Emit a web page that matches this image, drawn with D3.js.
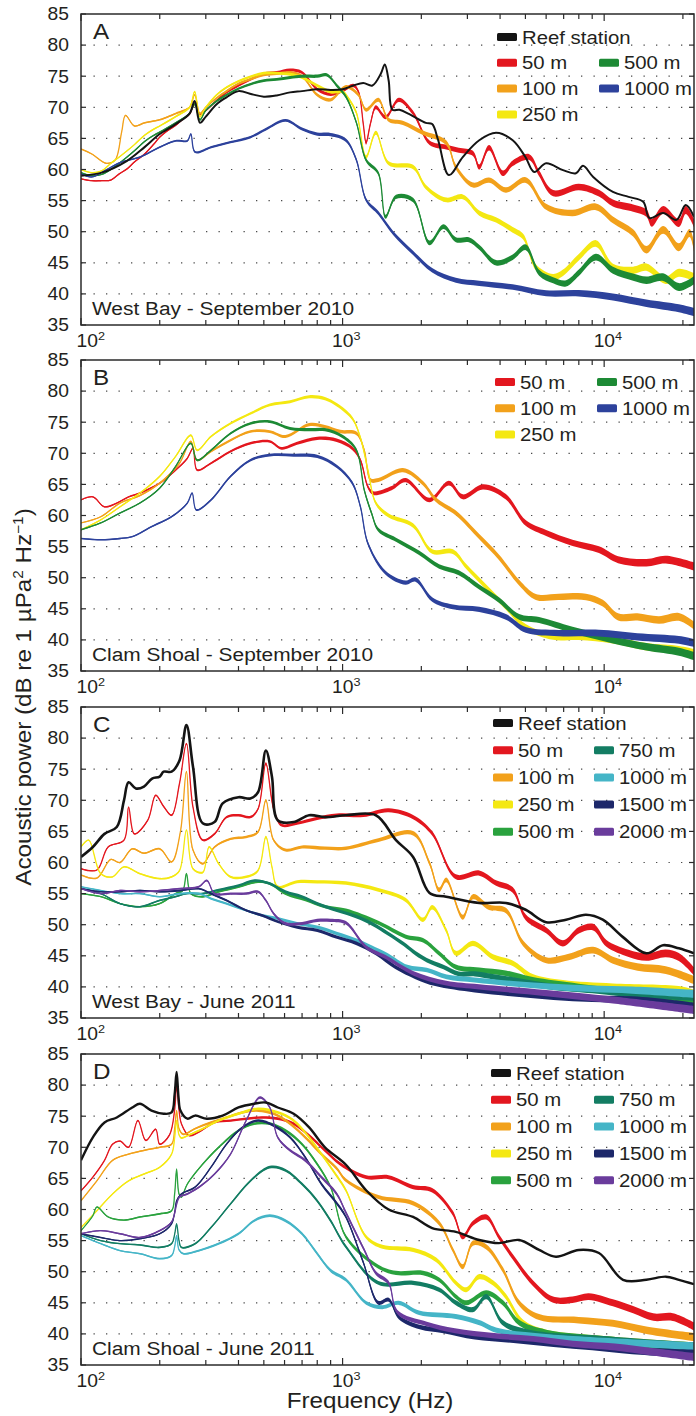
<!DOCTYPE html>
<html>
<head>
<meta charset="utf-8">
<script src="https://cdn.jsdelivr.net/npm/d3@7"></script>
<style>
  body { margin: 0; background: #fff; }
  svg { display: block; }
  text { font-family: "Liberation Sans", Arial, Helvetica, sans-serif; fill: #231f20; }
</style>
</head>
<body>
<svg id="chart" width="696" height="1416"></svg>
<script>
// ---- data: [frequency Hz, dB re 1 uPa^2/Hz] ----
// A: West Bay - September 2010
var wbSepReef = [[100,59.0],[120,59.5],[150,61.4],[175,63.6],[200,65.7],[230,67.3],[260,69.0],[272,71.0],[285,67.5],[300,68.5],[330,70.5],[360,71.6],[400,72.6],[450,72.1],[500,71.7],[560,71.9],[630,72.4],[700,72.6],[800,72.9],[900,72.8],[1000,72.9],[1100,73.5],[1200,73.9],[1300,73.5],[1400,75.4],[1450,76.9],[1500,74.3],[1550,69.6],[1650,69.6],[1800,68.9],[2080,67.5],[2200,67.3],[2320,64.7],[2550,59.1],[2880,62.0],[3330,64.7],[3860,65.9],[4470,64.7],[5000,62.0],[5400,59.6],[6000,61.0],[6960,59.9],[7800,59.4],[8300,60.6],[9080,58.8],[10800,56.4],[12400,55.6],[14100,54.8],[14900,52.2],[16800,53.0],[18900,51.9],[20500,54.3],[22050,52.4]];
var wbSep50 = [[100,58.5],[110,58.2],[120,58.2],[130,58.3],[140,59.3],[150,60.1],[160,61.2],[175,62.5],[190,64.1],[200,65.2],[215,66.3],[230,67.1],[245,68.1],[260,68.9],[272,70.5],[285,68.9],[300,69.5],[330,71.1],[360,72.4],[400,73.5],[450,74.6],[500,75.4],[560,75.6],[630,76.0],[700,75.6],[800,72.9],[900,72.1],[1000,72.7],[1100,73.5],[1150,72.5],[1200,67.3],[1230,64.3],[1280,67.5],[1340,70.0],[1460,68.4],[1640,71.2],[1860,69.1],[2150,64.3],[2490,63.6],[2780,63.1],[3150,62.6],[3330,60.4],[3630,63.5],[4100,59.4],[4470,61.0],[5170,62.0],[5640,59.4],[6380,56.2],[8000,57.2],[9550,56.2],[10800,54.6],[12900,53.8],[14500,53.0],[15200,51.4],[16800,53.5],[19300,51.4],[20500,53.5],[22050,51.4]];
var wbSep100 = [[100,63.3],[110,62.5],[125,61.0],[135,61.5],[143,66.0],[148,68.7],[160,67.0],[175,67.5],[190,67.8],[200,68.0],[230,69.0],[260,70.0],[272,72.0],[285,69.0],[300,70.0],[330,71.5],[360,72.6],[400,73.8],[450,74.6],[500,75.2],[560,75.4],[630,75.6],[700,75.0],[800,72.0],[900,71.2],[1030,73.3],[1150,72.0],[1230,69.6],[1370,71.2],[1500,68.0],[1700,67.5],[2030,65.9],[2490,64.3],[2710,60.4],[3150,57.5],[3630,58.3],[4210,56.7],[5010,58.3],[6000,54.0],[7570,53.0],[9300,54.0],[10800,51.9],[12900,49.8],[14500,47.1],[16800,50.3],[19300,47.5],[21200,49.8],[22050,47.5]];
var wbSep250 = [[100,60.0],[110,59.5],[120,59.8],[130,61.0],[140,62.0],[150,63.0],[160,64.0],[175,65.5],[190,66.5],[200,67.0],[230,68.5],[260,70.0],[272,72.5],[285,68.5],[300,70.0],[330,72.0],[360,73.2],[400,74.2],[450,75.0],[500,75.5],[560,75.5],[630,75.3],[700,74.8],[800,73.5],[900,72.5],[1000,72.5],[1050,71.5],[1130,69.1],[1230,62.0],[1340,65.9],[1500,61.0],[1860,60.4],[2080,57.2],[2490,55.1],[2880,55.6],[3330,53.0],[3860,51.9],[4470,50.3],[4900,49.2],[5480,44.3],[6380,42.7],[6960,43.4],[8000,45.9],[9300,48.1],[10800,44.3],[12900,43.8],[14500,44.3],[17200,42.2],[19300,43.4],[22050,42.7]];
var wbSep500 = [[100,59.5],[110,59.0],[120,59.2],[130,60.0],[140,61.0],[150,62.0],[160,63.0],[175,64.5],[190,65.5],[200,66.0],[230,67.5],[260,69.0],[272,70.5],[285,68.0],[300,69.5],[330,71.0],[360,72.0],[400,73.0],[450,73.8],[500,74.3],[560,74.5],[630,74.8],[700,75.0],[800,75.0],[870,75.2],[950,73.5],[1030,71.7],[1130,67.5],[1230,61.5],[1370,59.4],[1460,52.4],[1600,55.6],[1860,55.1],[2150,48.2],[2430,50.8],[2710,48.7],[3040,48.7],[3330,47.5],[3860,45.0],[4470,45.9],[5010,47.5],[5640,43.4],[6380,42.2],[7150,41.7],[8000,43.4],[9300,45.9],[10800,43.8],[12900,42.7],[14500,42.2],[16800,42.7],[19300,41.1],[22050,42.2]];
var wbSep1000 = [[100,59.3],[110,58.8],[123,59.8],[141,61.1],[168,62.0],[200,63.6],[230,64.6],[255,64.6],[263,65.7],[273,62.8],[315,63.6],[373,64.4],[444,65.2],[510,66.5],[605,67.9],[700,66.5],[800,65.7],[900,65.6],[1030,64.7],[1130,61.5],[1230,55.1],[1370,53.0],[1560,49.8],[1860,46.6],[2200,43.8],[2710,42.2],[3330,41.7],[4470,41.1],[6000,40.1],[8000,40.1],[10800,39.5],[14500,38.5],[19300,37.7],[22050,37.1]];

// B: Clam Shoal - September 2010
var csSep50 = [[100,62.5],[111,63.0],[123,61.4],[137,62.0],[152,63.0],[168,63.6],[200,65.2],[230,67.3],[255,69.2],[268,70.8],[278,67.3],[314,68.4],[373,70.3],[444,71.6],[527,71.9],[584,70.8],[670,71.6],[800,72.4],[950,72.1],[1090,70.8],[1170,68.9],[1250,64.6],[1310,63.6],[1540,64.4],[1740,65.7],[2150,62.5],[2550,65.2],[2880,63.0],[3440,64.6],[4210,63.0],[5010,58.8],[6000,57.2],[7570,55.6],[9550,54.5],[11300,52.9],[14500,52.4],[17200,52.9],[22050,51.8]];
var csSep100 = [[100,58.8],[119,59.8],[141,62.0],[168,63.2],[200,65.2],[238,68.4],[263,71.9],[278,68.9],[314,70.3],[373,72.1],[444,73.5],[527,73.5],[605,72.7],[745,74.6],[856,74.3],[980,73.5],[1130,73.2],[1210,70.5],[1280,65.7],[1370,65.7],[1700,67.3],[2030,65.2],[2280,62.5],[2710,60.4],[3330,56.6],[3960,53.3],[4730,49.2],[5480,46.9],[6700,46.9],[8520,46.9],[9880,45.9],[11300,43.7],[13400,43.7],[16200,43.2],[19300,43.7],[22050,42.3]];
var csSep250 = [[100,57.7],[119,59.3],[141,61.4],[168,63.6],[200,66.3],[230,69.5],[263,72.9],[278,70.5],[314,72.7],[373,74.8],[444,76.4],[527,77.8],[630,78.3],[745,79.1],[856,78.8],[950,77.8],[1090,75.6],[1170,72.5],[1250,67.3],[1340,62.0],[1500,60.0],[1860,58.4],[2200,54.2],[2640,54.2],[2970,51.8],[3540,48.5],[4210,45.3],[5010,42.1],[6380,40.5],[8000,40.5],[10800,40.0],[14500,38.9],[19300,38.4],[22050,37.9]];
var csSep500 = [[100,57.7],[119,58.8],[141,60.4],[168,62.0],[200,64.4],[230,67.9],[263,71.6],[278,68.9],[314,70.5],[373,73.2],[444,74.8],[527,75.1],[630,74.0],[745,73.8],[856,73.8],[1000,72.7],[1130,70.5],[1210,64.1],[1290,60.4],[1370,57.7],[1600,56.1],[1960,54.0],[2340,51.8],[2780,50.8],[3330,48.5],[3960,46.4],[4730,43.7],[5640,43.2],[7570,41.6],[10800,40.0],[14500,38.9],[19300,38.1],[22050,37.4]];
var csSep1000 = [[100,56.3],[119,56.1],[141,56.3],[157,56.6],[186,58.2],[222,59.8],[255,62.0],[266,63.6],[276,60.9],[314,62.5],[373,66.3],[444,68.9],[527,69.7],[650,69.7],[800,69.5],[950,67.9],[1090,65.2],[1170,61.4],[1250,55.5],[1460,50.8],[1740,49.2],[1900,49.7],[2200,46.5],[2640,45.3],[3330,44.9],[4210,43.7],[5010,41.6],[6700,41.1],[9550,41.1],[13400,40.5],[19300,40.0],[22050,39.5]];

// C: West Bay - June 2011
var wbJunReef = [[100,60.9],[111,62.5],[123,64.6],[137,65.7],[146,70.0],[152,72.9],[162,71.9],[174,72.2],[187,73.5],[200,73.8],[207,74.6],[222,74.6],[238,76.4],[253,82.1],[268,75.4],[292,66.3],[324,66.5],[348,69.5],[400,70.5],[444,70.3],[475,71.3],[509,78.0],[537,73.8],[565,66.8],[650,66.5],[745,67.6],[856,67.3],[1030,67.6],[1340,67.6],[1600,63.6],[1860,60.9],[2150,55.1],[2490,54.5],[3330,53.5],[4210,53.5],[5010,52.4],[6000,50.4],[7150,50.8],[8520,51.6],[9880,50.8],[11800,48.0],[14500,45.4],[16800,46.7],[19300,46.2],[22050,45.4]];
var wbJun50 = [[100,59.0],[115,58.8],[127,62.5],[146,63.6],[152,68.9],[160,64.6],[180,66.8],[193,70.8],[207,69.0],[222,67.6],[238,72.7],[253,79.1],[268,68.9],[292,63.6],[324,64.6],[360,67.3],[400,67.6],[444,67.3],[475,68.6],[509,75.9],[545,68.6],[584,66.0],[670,66.3],[800,67.1],[950,67.6],[1200,67.6],[1500,68.4],[1860,67.3],[2200,64.7],[2710,57.7],[3330,58.3],[3860,56.7],[4470,55.6],[5010,51.2],[6000,49.1],[6960,47.0],[8000,49.1],[9080,49.6],[10200,47.0],[12400,45.4],[14500,44.8],[17200,45.4],[19300,44.8],[22050,42.5]];
var wbJun100 = [[100,58.0],[115,57.5],[130,60.5],[141,60.0],[157,62.2],[174,61.5],[200,62.2],[222,60.1],[240,65.0],[253,74.6],[268,62.0],[292,59.8],[324,62.5],[373,63.8],[428,64.1],[475,64.9],[509,70.0],[545,63.6],[605,62.0],[700,62.5],[856,62.3],[1030,62.3],[1370,63.6],[1860,64.7],[2150,59.9],[2340,55.6],[2490,57.2],[2880,51.2],[3150,54.5],[3630,52.8],[4210,52.3],[4900,47.0],[6000,44.3],[7320,44.8],[9080,45.9],[10800,44.3],[13400,43.2],[17200,42.7],[22050,41.1]];
var wbJun250 = [[100,62.5],[107,63.6],[119,58.2],[132,57.7],[146,59.3],[168,58.2],[200,57.4],[222,57.7],[238,58.7],[253,65.2],[268,59.0],[292,58.4],[309,62.5],[336,59.8],[373,57.7],[428,57.7],[475,58.7],[509,64.1],[537,59.3],[565,56.1],[670,56.9],[800,56.9],[1030,56.7],[1370,55.6],[1740,54.0],[2030,50.8],[2200,52.8],[2490,49.1],[2710,45.4],[3150,47.0],[3760,44.8],[4470,43.8],[5330,41.6],[6960,40.6],[10800,40.0],[19300,39.5],[22050,38.9]];
var wbJun500 = [[100,55.0],[119,54.5],[141,53.4],[168,52.9],[200,53.4],[230,55.0],[245,55.5],[253,58.2],[263,55.0],[292,54.5],[336,55.3],[400,56.1],[475,56.9],[527,56.6],[605,55.0],[720,54.0],[856,52.9],[1030,52.3],[1370,50.3],[1740,48.1],[2030,47.5],[2340,45.4],[2710,43.2],[3330,42.7],[4210,42.2],[5330,41.1],[8000,40.0],[12400,39.0],[22050,37.9]];
var wbJun750 = [[100,55.8],[119,55.0],[141,53.4],[168,52.9],[200,53.9],[230,54.5],[253,55.0],[292,55.0],[336,55.6],[400,56.3],[460,57.1],[527,56.6],[605,55.3],[700,54.5],[800,53.4],[950,52.3],[1130,51.3],[1290,50.2],[1490,48.6],[1710,46.9],[1900,45.4],[2100,44.3],[2430,43.2],[2780,42.1],[3200,42.1],[3800,41.6],[4500,41.1],[5350,40.5],[6400,40.0],[9000,39.5],[12800,38.9],[22050,38.4]];
var wbJun1000 = [[100,56.1],[119,55.5],[141,55.0],[168,55.0],[200,54.5],[238,55.0],[282,55.0],[314,54.2],[360,53.4],[428,52.3],[492,51.5],[565,51.0],[670,50.2],[800,49.6],[950,48.6],[1130,47.5],[1290,46.4],[1490,45.1],[1770,43.2],[2100,42.7],[2500,41.6],[3200,41.1],[4500,40.5],[6400,40.0],[9000,39.7],[12800,39.5],[22050,38.9]];
var wbJun1500 = [[100,55.8],[119,55.3],[141,55.3],[168,55.5],[200,55.3],[238,55.5],[282,55.8],[314,55.0],[360,53.9],[428,52.3],[492,51.5],[565,50.5],[670,49.6],[800,49.1],[950,48.0],[1130,47.0],[1340,45.4],[1590,43.2],[1900,41.6],[2260,40.5],[3200,39.5],[4500,38.9],[6400,38.4],[9000,38.1],[12800,37.9],[18000,37.3],[22050,36.8]];
var wbJun2000 = [[100,55.8],[119,55.0],[141,55.5],[168,55.3],[200,55.5],[238,55.8],[282,56.1],[303,57.1],[324,55.0],[373,55.0],[428,55.0],[475,55.3],[509,53.9],[545,51.8],[605,50.2],[700,50.2],[800,50.7],[900,50.7],[1030,50.3],[1230,46.4],[1460,44.8],[1860,42.2],[2490,40.6],[3330,40.0],[6000,39.0],[10800,37.9],[22050,36.3]];

// D: Clam Shoal - June 2011
var csJunReef = [[100,67.9],[111,71.6],[123,74.0],[137,74.8],[157,76.4],[168,77.0],[186,75.9],[207,75.4],[222,75.6],[228,78.5],[232,82.1],[236,78.0],[240,75.9],[255,74.6],[273,75.1],[303,74.6],[348,75.1],[400,76.4],[459,77.0],[509,77.2],[565,76.4],[650,75.4],[745,73.2],[856,70.0],[1030,67.2],[1230,63.1],[1500,60.0],[1860,58.8],[2200,57.0],[2710,56.4],[3330,55.1],[3960,54.6],[4730,55.1],[5640,53.5],[6540,52.4],[8000,53.5],[9550,53.0],[11800,48.7],[14500,48.7],[17200,49.2],[19300,48.7],[22050,48.0]];
var csJun50 = [[100,63.0],[111,65.2],[123,67.9],[132,70.5],[141,71.0],[152,70.0],[165,74.3],[177,71.1],[193,72.9],[200,70.5],[218,72.0],[228,76.0],[232,79.9],[237,76.0],[242,73.8],[259,71.9],[283,72.5],[324,74.0],[373,74.3],[428,74.6],[492,74.8],[565,74.6],[650,73.8],[745,71.9],[856,69.5],[980,67.3],[1230,65.2],[1500,65.2],[1860,63.6],[2200,63.1],[2640,59.4],[2880,55.6],[3150,57.8],[3540,58.8],[3960,55.6],[4470,52.4],[5330,48.2],[6380,45.5],[7570,45.5],[8730,46.0],[10800,45.0],[12900,43.9],[15400,42.7],[18300,42.7],[22050,41.2]];
var csJun100 = [[100,61.4],[115,64.6],[132,67.9],[152,68.9],[174,69.5],[200,70.0],[222,70.5],[228,73.0],[232,75.9],[237,73.0],[246,72.1],[273,73.0],[314,74.0],[360,74.8],[414,75.6],[475,75.9],[545,75.4],[630,73.8],[720,71.6],[830,68.9],[950,66.6],[1030,64.7],[1370,62.0],[1860,61.0],[2340,57.8],[2640,53.5],[2880,50.8],[3150,54.6],[3540,54.0],[4100,50.3],[4730,45.0],[5640,42.7],[8000,42.2],[10800,41.7],[14500,40.6],[22050,39.5]];
var csJun250 = [[100,57.1],[115,59.8],[132,62.5],[152,64.6],[174,65.7],[200,66.8],[222,68.9],[228,71.5],[232,74.3],[237,72.0],[242,71.5],[259,72.0],[292,73.0],[336,74.3],[400,75.4],[475,76.2],[565,75.6],[650,74.3],[745,71.6],[830,68.9],[950,65.4],[1030,63.1],[1230,55.6],[1420,54.0],[1860,53.5],[2280,51.9],[2710,48.2],[2970,47.1],[3330,49.2],[3760,48.2],[4210,46.0],[4900,41.8],[6000,40.2],[10800,39.0],[22050,38.0]];
var csJun500 = [[100,56.6],[111,59.0],[115,60.4],[127,58.8],[146,58.3],[168,58.8],[200,59.3],[222,59.8],[228,62.5],[232,66.5],[237,62.5],[242,62.0],[255,64.1],[292,67.3],[336,70.0],[400,72.7],[459,73.8],[527,73.8],[605,72.7],[700,70.5],[800,67.3],[900,63.6],[1030,55.6],[1370,50.8],[1600,49.8],[2030,49.8],[2340,48.7],[2710,46.0],[2970,45.0],[3540,46.6],[4100,45.0],[4730,41.8],[6000,40.2],[10800,39.0],[22050,37.4]];
var csJun750 = [[100,56.1],[119,55.0],[141,54.5],[168,54.3],[200,53.9],[222,54.5],[228,56.0],[232,57.7],[237,55.0],[242,53.9],[273,54.5],[314,57.1],[373,60.9],[444,64.6],[527,66.8],[605,66.3],[700,64.1],[800,61.4],[900,58.2],[1030,54.0],[1370,48.2],[1860,48.2],[2340,47.1],[2710,45.0],[3150,43.9],[3540,46.0],[4100,41.8],[5170,40.2],[10800,39.0],[22050,38.0]];
var csJun1000 = [[100,55.8],[119,54.5],[141,53.4],[168,52.9],[200,52.1],[222,52.6],[228,54.0],[232,55.8],[237,53.5],[246,52.9],[283,53.4],[336,54.5],[400,56.1],[459,58.2],[527,59.0],[605,58.2],[700,56.1],[800,52.9],[900,50.2],[1030,48.7],[1230,45.0],[1420,44.3],[1640,45.0],[1960,43.4],[2710,42.8],[3330,41.8],[3860,40.6],[6000,39.5],[22050,38.0]];
var csJun1500 = [[100,56.1],[119,55.5],[141,55.0],[168,55.3],[200,56.1],[222,57.7],[228,59.5],[232,61.4],[242,62.5],[273,63.6],[314,66.8],[360,70.5],[414,73.2],[475,74.3],[545,73.5],[630,71.6],[720,68.4],[830,64.1],[950,61.0],[1030,58.8],[1200,51.5],[1370,45.0],[1500,45.5],[1640,42.7],[1970,41.1],[2430,40.5],[3200,39.5],[4500,39.0],[6400,38.4],[9000,37.9],[12800,37.3],[22050,36.8]];
var csJun2000 = [[100,56.1],[119,56.6],[141,56.1],[168,55.5],[200,56.6],[222,58.0],[238,62.0],[255,62.5],[283,63.6],[324,65.7],[373,68.9],[428,74.3],[483,78.0],[527,76.4],[565,71.6],[630,69.5],[720,67.9],[830,65.2],[950,62.5],[1030,59.5],[1210,53.5],[1340,49.8],[1500,48.2],[1620,43.5],[2100,41.6],[2690,40.5],[3800,39.7],[5350,39.2],[7600,38.4],[11000,37.9],[15500,37.1],[22050,36.3]];

var yTicks = [35, 40, 45, 50, 55, 60, 65, 70, 75, 80, 85];
var xMajor = [100, 1000, 10000];
var xMinor = [200, 300, 400, 500, 600, 700, 800, 900, 2000, 3000, 4000, 5000, 6000, 7000, 8000, 9000, 20000];

var colors = {
  reef: "#141414", m50: "#e3171f", m100: "#f2a11b", m250: "#f4e812",
  m500a: "#1d8a35", m1000a: "#2d429c",
  m500: "#2aa23e", m750: "#137d63", m1000: "#45b5c7", m1500: "#1d286a", m2000: "#6a3c9c"
};

var panels = [
  { letter: "A", place: "West Bay - September 2010", top: 14,
    legend: { x1: 497, x2: 599, y0: 23, dy: 25.8, col2Row: 1 },
    series: [
      { name: "50 m", data: wbSep50, color: colors.m50, col: 1 },
      { name: "100 m", data: wbSep100, color: colors.m100, col: 1 },
      { name: "250 m", data: wbSep250, color: colors.m250, col: 1 },
      { name: "500 m", data: wbSep500, color: colors.m500a, col: 2 },
      { name: "1000 m", data: wbSep1000, color: colors.m1000a, col: 2 }
    ],
    reef: { data: wbSepReef, width: 2 } },
  { letter: "B", place: "Clam Shoal - September 2010", top: 360,
    legend: { x1: 495, x2: 597, y0: 22, dy: 26.3, col2Row: 0 },
    series: [
      { name: "50 m", data: csSep50, color: colors.m50, col: 1 },
      { name: "100 m", data: csSep100, color: colors.m100, col: 1 },
      { name: "250 m", data: csSep250, color: colors.m250, col: 1 },
      { name: "500 m", data: csSep500, color: colors.m500a, col: 2 },
      { name: "1000 m", data: csSep1000, color: colors.m1000a, col: 2 }
    ],
    reef: null },
  { letter: "C", place: "West Bay - June 2011", top: 707,
    legend: { x1: 493, x2: 594, y0: 16, dy: 27.2, col2Row: 1 },
    series: [
      { name: "50 m", data: wbJun50, color: colors.m50, col: 1 },
      { name: "100 m", data: wbJun100, color: colors.m100, col: 1 },
      { name: "250 m", data: wbJun250, color: colors.m250, col: 1 },
      { name: "500 m", data: wbJun500, color: colors.m500, col: 1 },
      { name: "750 m", data: wbJun750, color: colors.m750, col: 2 },
      { name: "1000 m", data: wbJun1000, color: colors.m1000, col: 2 },
      { name: "1500 m", data: wbJun1500, color: colors.m1500, col: 2 },
      { name: "2000 m", data: wbJun2000, color: colors.m2000, col: 2 }
    ],
    reef: { data: wbJunReef, width: 2.6 } },
  { letter: "D", place: "Clam Shoal - June 2011", top: 1054,
    legend: { x1: 491, x2: 594, y0: 19, dy: 26.8, col2Row: 1 },
    series: [
      { name: "50 m", data: csJun50, color: colors.m50, col: 1 },
      { name: "100 m", data: csJun100, color: colors.m100, col: 1 },
      { name: "250 m", data: csJun250, color: colors.m250, col: 1 },
      { name: "500 m", data: csJun500, color: colors.m500, col: 1 },
      { name: "750 m", data: csJun750, color: colors.m750, col: 2 },
      { name: "1000 m", data: csJun1000, color: colors.m1000, col: 2 },
      { name: "1500 m", data: csJun1500, color: colors.m1500, col: 2 },
      { name: "2000 m", data: csJun2000, color: colors.m2000, col: 2 }
    ],
    reef: { data: csJunReef, width: 2.4 } }
];

var svg = d3.select("#chart");
var left = 81, right = 694, ph = 311;
var stretch = 1.1; // the figure's lettering is a little wide

var x = d3.scaleLog().domain([100, 22050]).range([left, right]);

// noise band half-width grows with frequency (more FFT bins per pixel)
var hw = function (f) {
  var t = Math.max(0, (Math.log10(f) - 2) / 2.3434);
  return 0.55 + 3.5 * Math.pow(t, 1.25);
};

function label(g, px, py, str, size, anchor) {
  return g.append("text")
    .attr("transform", "translate(" + px + "," + py + ") scale(" + stretch + ",1)")
    .attr("text-anchor", anchor || "start")
    .style("font-size", size + "px")
    .text(str);
}

panels.forEach(function (p, pi) {
  var top = p.top, bottom = top + ph;
  var y = d3.scaleLinear().domain([35, 85]).range([bottom, top]);
  var g = svg.append("g");

  g.append("clipPath").attr("id", "clip" + pi)
    .append("rect").attr("x", left).attr("y", top).attr("width", right - left).attr("height", ph);

  // dotted grid
  g.selectAll(".grid").data(yTicks.filter(function (d) { return d > 35 && d < 85; }))
    .enter().append("line")
    .attr("x1", left).attr("x2", right)
    .attr("y1", function (d) { return y(d); }).attr("y2", function (d) { return y(d); })
    .attr("stroke", "#4a4a4a").attr("stroke-width", 1.2)
    .attr("stroke-dasharray", "1.3,11.2");

  var plot = g.append("g").attr("clip-path", "url(#clip" + pi + ")");

  var curve = d3.curveCatmullRom.alpha(0.5);
  var area = d3.area()
    .curve(curve)
    .x(function (d) { return x(d[0]); })
    .y0(function (d) { return y(d[1]) + hw(d[0]); })
    .y1(function (d) { return y(d[1]) - hw(d[0]); });
  var line = d3.line()
    .curve(curve)
    .x(function (d) { return x(d[0]); })
    .y(function (d) { return y(d[1]); });

  p.series.forEach(function (s) {
    plot.append("path").datum(s.data).attr("d", area).attr("fill", s.color);
    plot.append("path").datum(s.data).attr("d", line)
      .attr("fill", "none").attr("stroke", s.color).attr("stroke-width", 1.3)
      .attr("stroke-linejoin", "round");
  });
  if (p.reef) {
    plot.append("path").datum(p.reef.data).attr("d", line)
      .attr("fill", "none").attr("stroke", colors.reef).attr("stroke-width", p.reef.width)
      .attr("stroke-linejoin", "round");
  }

  // frame
  g.append("rect").attr("x", left).attr("y", top).attr("width", right - left).attr("height", ph)
    .attr("fill", "none").attr("stroke", "#2b2b2b").attr("stroke-width", 1.5);

  // x ticks inside, top and bottom
  var xt = xMajor.map(function (d) { return { f: d, len: 7 }; })
    .concat(xMinor.map(function (d) { return { f: d, len: 5 }; }));
  xt.forEach(function (t) {
    var px = x(t.f);
    g.append("line").attr("x1", px).attr("x2", px).attr("y1", bottom).attr("y2", bottom - t.len)
      .attr("stroke", "#2b2b2b").attr("stroke-width", 1.2);
    g.append("line").attr("x1", px).attr("x2", px).attr("y1", top).attr("y2", top + t.len)
      .attr("stroke", "#2b2b2b").attr("stroke-width", 1.2);
  });
  // y ticks inside, left and right
  yTicks.forEach(function (d) {
    g.append("line").attr("x1", left).attr("x2", left + 5).attr("y1", y(d)).attr("y2", y(d))
      .attr("stroke", "#2b2b2b").attr("stroke-width", 1.2);
    g.append("line").attr("x1", right - 5).attr("x2", right).attr("y1", y(d)).attr("y2", y(d))
      .attr("stroke", "#2b2b2b").attr("stroke-width", 1.2);
    label(g, 69, y(d) + 6.3, String(d), 17.5, "end");
  });

  // x tick labels 10^n
  xMajor.forEach(function (d, i) {
    var px = x(d) - 10.5 + (i === 0 ? 6 : 0);
    var t = g.append("text")
      .attr("transform", "translate(" + px + "," + (bottom + 22) + ") scale(" + stretch + ",1)")
      .style("font-size", "17.5px");
    t.append("tspan").text("10");
    t.append("tspan").attr("dy", -7).style("font-size", "11.5px").text(String(Math.round(Math.log10(d))));
  });

  // panel letter and location
  label(g, left + 12, top + 25, p.letter, 22);
  label(g, left + 11, bottom - 10, p.place, 19);

  // legend
  var L = p.legend;
  var entries = [];
  if (p.reef) entries.push({ name: "Reef station", color: colors.reef, col: 1 });
  p.series.forEach(function (s) { entries.push(s); });
  var r1 = 0, r2 = L.col2Row;
  entries.forEach(function (e) {
    var row = e.col === 1 ? r1++ : r2++;
    var sx = e.col === 1 ? L.x1 : L.x2;
    var cy = top + L.y0 + row * L.dy;
    g.append("rect").attr("x", sx).attr("y", cy - 4).attr("width", 20).attr("height", 8)
      .attr("rx", 1.5).attr("fill", e.color);
    label(g, sx + 25, cy + 6.5, e.name, 18.5);
  });
});

// axis titles
var yt = svg.append("text")
  .attr("transform", "translate(31,697) rotate(-90) scale(" + stretch + ",1)")
  .attr("text-anchor", "middle")
  .style("font-size", "22px");
yt.append("tspan").text("Acoustic power (dB re 1 \u00b5Pa");
yt.append("tspan").attr("dy", -8).style("font-size", "14px").text("2");
yt.append("tspan").attr("dy", 8).text(" Hz");
yt.append("tspan").attr("dy", -8).style("font-size", "14px").text("\u22121");
yt.append("tspan").attr("dy", 8).text(")");

svg.append("text")
  .attr("transform", "translate(370,1408) scale(" + stretch + ",1)")
  .attr("text-anchor", "middle")
  .style("font-size", "22px")
  .text("Frequency (Hz)");
</script>
</body>
</html>
